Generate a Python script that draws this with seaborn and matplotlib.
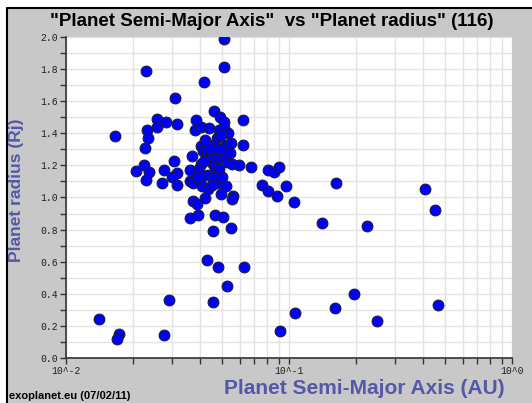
import numpy as np
import pandas as pd
import matplotlib
matplotlib.use("Agg")
import matplotlib.pyplot as plt
import matplotlib.ticker as mticker
from matplotlib.patches import Rectangle
from matplotlib.lines import Line2D
import seaborn as sns

# Semi-major axis (AU) and radius (Rj)
semi_major_axis = [
    0.0513, 0.0509, 0.0229, 0.0416, 0.0308, 0.0463, 0.0488, 0.0255, 0.0381, 0.0512,
    0.0622, 0.0281, 0.0313, 0.0255, 0.0230, 0.0379, 0.0402, 0.0437, 0.0483, 0.0513,
    0.0532, 0.01663, 0.0233, 0.0474, 0.0498, 0.0226, 0.0401, 0.0458, 0.0522, 0.0550,
    0.0619, 0.0413, 0.0428, 0.0369, 0.0447, 0.0474, 0.0515, 0.0306, 0.0403, 0.0432,
    0.0458, 0.0526, 0.0553, 0.0224, 0.0594, 0.0676, 0.0205, 0.0236, 0.0275, 0.0316,
    0.0358, 0.0393, 0.0466, 0.0485, 0.0300, 0.0432, 0.0463, 0.0228, 0.0269, 0.0313,
    0.0360, 0.0372, 0.0399, 0.0406, 0.0435, 0.0482, 0.0520, 0.0421, 0.0494, 0.0562,
    0.0558, 0.0370, 0.0386, 0.0360, 0.0392, 0.0465, 0.0508, 0.0456, 0.0548, 0.0429,
    0.0481, 0.0628, 0.0529, 0.0290, 0.0456, 0.0140, 0.0173, 0.0169, 0.0275, 0.0803,
    0.0859, 0.0902, 0.0755, 0.0805, 0.0881, 0.0967, 0.1056, 0.1625, 0.1402, 0.2245,
    0.407, 0.450, 0.195, 0.160, 0.464, 0.1061, 0.249, 0.0914, 0.0416, 0.0442,
    0.0490, 0.0391, 0.0452, 0.0501, 0.0544, 0.0420,
]
planet_radius = [
    1.99, 1.81, 1.79, 1.72, 1.62, 1.54, 1.50, 1.49, 1.48, 1.47,
    1.48, 1.47, 1.46, 1.44, 1.42, 1.42, 1.44, 1.43, 1.42, 1.43,
    1.40, 1.385, 1.37, 1.37, 1.39, 1.31, 1.32, 1.33, 1.33, 1.34,
    1.33, 1.29, 1.28, 1.26, 1.26, 1.24, 1.26, 1.23, 1.21, 1.24,
    1.21, 1.22, 1.21, 1.20, 1.20, 1.19, 1.165, 1.16, 1.17, 1.15,
    1.17, 1.18, 1.19, 1.18, 1.13, 1.14, 1.13, 1.11, 1.09, 1.08,
    1.10, 1.09, 1.10, 1.07, 1.05, 1.09, 1.07, 1.00, 1.02, 1.01,
    0.99, 0.98, 0.96, 0.87, 0.89, 0.89, 0.88, 0.79, 0.81, 0.61,
    0.57, 0.57, 0.45, 0.36, 0.35, 0.24, 0.15, 0.12, 0.145, 1.17,
    1.16, 1.19, 1.08, 1.04, 1.01, 1.07, 0.97, 1.09, 0.84, 0.82,
    1.05, 0.92, 0.40, 0.31, 0.33, 0.28, 0.23, 0.17, 1.23, 1.31,
    1.30, 1.13, 1.08, 1.13, 1.28, 1.36,
]
x_ticks = [0.01, 0.1, 1.0]
x_tick_labels = ["10^-2", "10^-1", "10^0"]

df = pd.DataFrame({"a": semi_major_axis, "r": planet_radius})

sns.set_style("white")
plt.rcParams['font.family'] = ['Liberation Sans', 'DejaVu Sans']

fig = plt.figure(figsize=(5.32, 4.03), dpi=100)
fig.patch.set_facecolor("white")

# gray panel with black top/left edge
fig.patches.append(Rectangle((7 / 532, 0), 1, 1 - 8 / 403, transform=fig.transFigure,
                             facecolor="#c8c8c8", edgecolor="none", zorder=-10))
fig.lines.append(Line2D([7 / 532, 7 / 532], [0, 1 - 8 / 403], transform=fig.transFigure,
                        color="black", lw=1.5))
fig.lines.append(Line2D([7 / 532, 1], [1 - 8 / 403, 1 - 8 / 403], transform=fig.transFigure,
                        color="black", lw=1.5))

ax = fig.add_axes([66 / 532, 1 - 358 / 403, (512 - 66) / 532, (358 - 37) / 403])
ax.set_facecolor("white")

sns.scatterplot(data=df, x="a", y="r", ax=ax, color="#0000ff", s=60,
                edgecolor="#1a1a40", linewidth=0.8, zorder=3, legend=False)

ax.set_xscale("log")
ax.set_xlim(0.01, 1.0)
ax.set_ylim(0, 2.0)

ax.set_xticks(x_ticks)
ax.set_xticklabels(x_tick_labels)
ax.xaxis.set_minor_locator(mticker.LogLocator(base=10, subs=np.arange(2, 10)))
ax.xaxis.set_minor_formatter(mticker.NullFormatter())
ax.yaxis.set_major_locator(mticker.MultipleLocator(0.2))
ax.yaxis.set_minor_locator(mticker.MultipleLocator(0.1))
ax.yaxis.set_major_formatter(mticker.FormatStrFormatter("%.1f"))

ax.grid(True, which="both", color="#e3e3e3", lw=1, zorder=0)
ax.set_axisbelow(True)
ax.tick_params(which="both", direction="out", length=4, width=1, color="#333333",
               left=True, bottom=True, labelsize=7, labelcolor="#222222", pad=2)
for lab in ax.get_xticklabels() + ax.get_yticklabels():
    lab.set_family("Liberation Mono")

for side in ["top", "right"]:
    ax.spines[side].set_visible(False)
for side in ["left", "bottom"]:
    ax.spines[side].set_color("#333333")
    ax.spines[side].set_linewidth(1.2)

ax.set_xlabel("")
ax.set_ylabel("")

fig.text(0.51, 1 - 21 / 403, '"Planet Semi-Major Axis"  vs "Planet radius" (116)',
         ha="center", va="center", fontsize=13.5, fontweight="bold", color="black")
fig.text(505 / 532, 1 - 389 / 403, "Planet Semi-Major Axis (AU)", ha="right", va="center",
         fontsize=15, fontweight="bold", color="#5557a8")
fig.text(17 / 532, 1 - 190 / 403, "Planet radius (Rj)", ha="center", va="center",
         rotation=90, fontsize=12.5, fontweight="bold", color="#5557a8")
fig.text(9 / 532, 2 / 403, "exoplanet.eu (07/02/11)", ha="left", va="bottom",
         fontsize=8, fontweight="bold", color="black")

fig.savefig("out.png", dpi=100)
